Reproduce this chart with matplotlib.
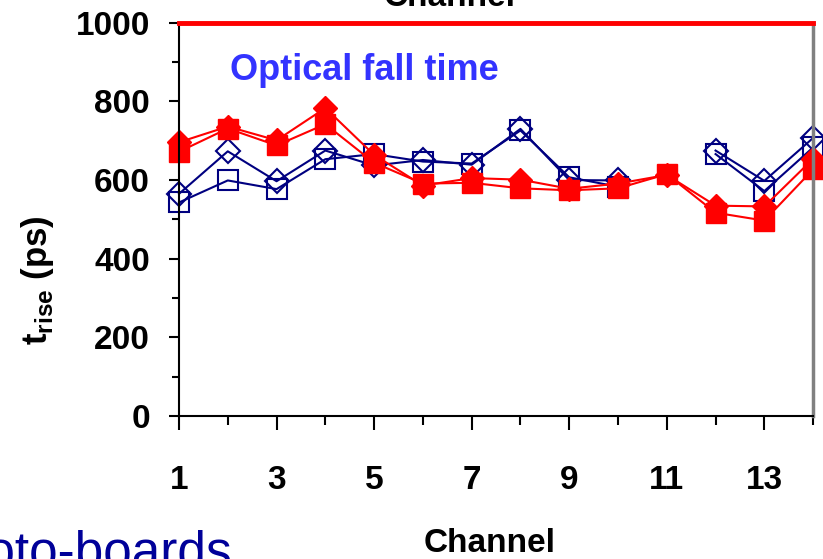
import numpy as np
from matplotlib import pyplot as plt
from matplotlib.ticker import MultipleLocator, FixedLocator

plt.rcParams['font.family'] = ['Liberation Sans', 'DejaVu Sans']
plt.rcParams['mathtext.fontset'] = 'custom'
plt.rcParams['mathtext.rm'] = 'Liberation Sans'
plt.rcParams['mathtext.bf'] = 'Liberation Sans:bold'

# Data (ps); channel 11 has no value for the blue boards
channels = list(range(1, 15))
blue_diamond = [565, 673, 597, 675, 637, 651, 639, 730, 600, 599, np.nan, 675, 598, 707]
blue_square  = [543, 599, 577, 653, 666, 647, 642, 726, 607, 583, np.nan, 666, 572, 683]
red_diamond  = [696, 736, 701, 783, 664, 586, 605, 601, 578, 591, 613, 535, 533, 654]
red_square   = [672, 731, 688, 742, 644, 591, 593, 579, 574, 579, 615, 517, 497, 627]
ceiling      = [1000] * 14

fig = plt.figure(figsize=(8.23, 5.59), dpi=100)
ax = fig.add_axes([0.2175, 0.2555, 0.7705, 0.704])

navy = '#000080'
red = '#ff0000'

# Blue (open markers) first, red (filled) on top
ax.plot(channels, blue_diamond, color=navy, lw=1.5, marker='D', ms=12,
        mfc='none', mec=navy, mew=1.5, clip_on=False)
ax.plot(channels, blue_square, color=navy, lw=1.5, marker='s', ms=14.5,
        mfc='none', mec=navy, mew=1.5, clip_on=False)
ax.plot(channels, red_diamond, color=red, lw=1.5, marker='D', ms=12,
        mfc=red, mec=red, clip_on=False)
ax.plot(channels, red_square, color=red, lw=1.5, marker='s', ms=14.5,
        mfc=red, mec=red, clip_on=False)
ax.plot(channels, ceiling, color=red, lw=3.5, clip_on=False, zorder=5)

ax.set_xlim(1, 14)
ax.set_ylim(0, 1000)

ax.xaxis.set_major_locator(FixedLocator([1, 3, 5, 7, 9, 11, 13]))
ax.xaxis.set_minor_locator(MultipleLocator(1))
ax.yaxis.set_major_locator(MultipleLocator(200))
ax.yaxis.set_minor_locator(MultipleLocator(100))

ax.tick_params(axis='x', which='major', direction='out', length=10, width=1.5,
               pad=25, labelsize=24)
ax.tick_params(axis='x', which='minor', direction='out', length=6.5, width=1.5)
ax.tick_params(axis='y', which='major', direction='out', length=7, width=1.5,
               pad=14, labelsize=24)
ax.tick_params(axis='y', which='minor', direction='out', length=5, width=1.5)
for lab in ax.get_xticklabels() + ax.get_yticklabels():
    lab.set_fontweight('bold')

ax.spines['left'].set_linewidth(1.5)
ax.spines['bottom'].set_linewidth(1.5)
ax.spines['top'].set_color('#808080')
ax.spines['right'].set_color('#808080')
ax.spines['top'].set_linewidth(2.5)
ax.spines['right'].set_linewidth(2.5)

# Texts
fig.text(230 / 823, 1 - 80 / 559, 'Optical fall time', color='#3333ff',
         fontsize=26, fontweight='bold', ha='left', va='baseline')
fig.text(37 / 823, 1 - 280 / 559, r'$\mathbf{t}_{\mathbf{rise}}$ (ps)',
         fontsize=25, fontweight='bold', rotation=90, ha='center', va='center')
fig.text(490 / 823, 1 - 544 / 559, 'Channel', fontsize=24, fontweight='bold',
         ha='center', va='center')
fig.text(450 / 823, 1 + 2 / 559, 'Channel', fontsize=24, fontweight='bold',
         ha='center', va='center')
fig.text(233 / 823, 1 - 568 / 559, 'Proto-boards', color='#000099',
         fontsize=37, ha='right', va='baseline')

fig.savefig('out.png', dpi=100)
